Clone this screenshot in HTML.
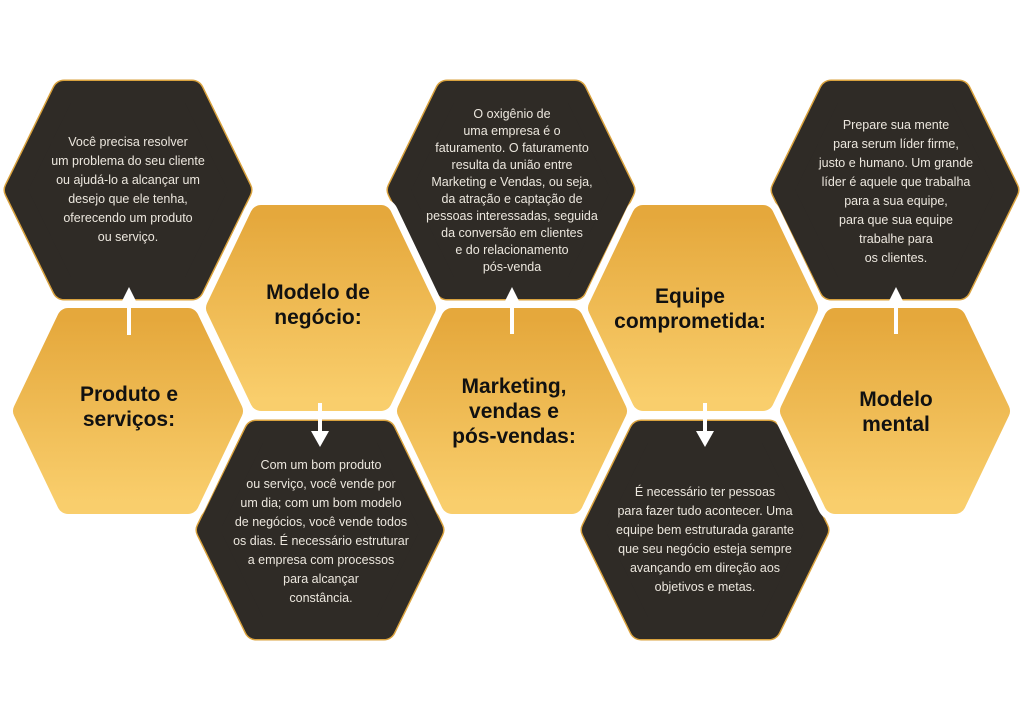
<!DOCTYPE html>
<html><head><meta charset="utf-8"><style>
html,body{margin:0;padding:0;background:#fff;}
svg{display:block}
.t{font-family:"Liberation Sans",sans-serif;font-size:12.5px;fill:#ece7de;text-anchor:middle}
.h{font-family:"Liberation Sans",sans-serif;font-size:21px;font-weight:bold;fill:#111;text-anchor:middle}
</style></head><body>
<svg width="1024" height="727" viewBox="0 0 1024 727" xmlns="http://www.w3.org/2000/svg">
<defs>
<linearGradient id="g" x1="0" y1="0" x2="0" y2="1">
<stop offset="0" stop-color="#e5a83c"/><stop offset="1" stop-color="#f9ce6c"/></linearGradient>
</defs>
<!-- dark hexes -->
<g fill="#2f2b26" stroke="#d9a23e" stroke-width="25" stroke-linejoin="round">
<polygon points="16,190 64,92 192,92 240,190 192,288 64,288"/>
<polygon points="399,190 447,92 575,92 623,190 575,288 447,288"/>
<polygon points="783,190 831,92 959,92 1007,190 959,288 831,288"/>
<polygon points="208,530 256,432 384,432 432,530 384,628 256,628"/>
<polygon points="593,530 641,432 769,432 817,530 769,628 641,628"/>
</g>
<g fill="#2f2b26" stroke="#2f2b26" stroke-width="22" stroke-linejoin="round">
<polygon points="16,190 64,92 192,92 240,190 192,288 64,288"/>
<polygon points="399,190 447,92 575,92 623,190 575,288 447,288"/>
<polygon points="783,190 831,92 959,92 1007,190 959,288 831,288"/>
<polygon points="208,530 256,432 384,432 432,530 384,628 256,628"/>
<polygon points="593,530 641,432 769,432 817,530 769,628 641,628"/>
</g>
<!-- white separation -->
<g fill="#fff" stroke="#fff" stroke-width="36" stroke-linejoin="round">
<polygon points="24,411 68,319 188,319 232,411 188,503 68,503"/>
<polygon points="217,308 261,216 381,216 425,308 381,400 261,400"/>
<polygon points="408,411 452,319 572,319 616,411 572,503 452,503"/>
<polygon points="599,308 643,216 763,216 807,308 763,400 643,400"/>
<polygon points="791,411 835,319 955,319 999,411 955,503 835,503"/>
</g>
<g fill="url(#g)" stroke="url(#g)" stroke-width="22" stroke-linejoin="round">
<polygon points="24,411 68,319 188,319 232,411 188,503 68,503"/>
<polygon points="217,308 261,216 381,216 425,308 381,400 261,400"/>
<polygon points="408,411 452,319 572,319 616,411 572,503 452,503"/>
<polygon points="599,308 643,216 763,216 807,308 763,400 643,400"/>
<polygon points="791,411 835,319 955,319 999,411 955,503 835,503"/>
</g>
<!-- arrows -->
<g fill="#fff" stroke="none">
<rect x="127" y="300" width="4" height="35"/><polygon points="129,287 122,301 136,301"/>
<rect x="510" y="300" width="4" height="34"/><polygon points="512,287 505,301 519,301"/>
<rect x="894" y="300" width="4" height="34"/><polygon points="896,287 889,301 903,301"/>
<rect x="318" y="403" width="4" height="30"/><polygon points="320,447 311,431 329,431"/>
<rect x="703" y="403" width="4" height="30"/><polygon points="705,447 696,431 714,431"/>
</g>
<g class="t">
<text x="128" y="146">Você precisa resolver</text>
<text x="128" y="165">um problema do seu cliente</text>
<text x="128" y="184">ou ajudá-lo a alcançar um</text>
<text x="128" y="203">desejo que ele tenha,</text>
<text x="128" y="222">oferecendo um produto</text>
<text x="128" y="241">ou serviço.</text>

<text x="512" y="118">O oxigênio de</text>
<text x="512" y="135">uma empresa é o</text>
<text x="512" y="152">faturamento. O faturamento</text>
<text x="512" y="169">resulta da união entre</text>
<text x="512" y="186">Marketing e Vendas, ou seja,</text>
<text x="512" y="203">da atração e captação de</text>
<text x="512" y="220">pessoas interessadas, seguida</text>
<text x="512" y="237">da conversão em clientes</text>
<text x="512" y="254">e do relacionamento</text>
<text x="512" y="271">pós-venda</text>

<text x="896" y="129">Prepare sua mente</text>
<text x="896" y="148">para serum líder firme,</text>
<text x="896" y="167">justo e humano. Um grande</text>
<text x="896" y="186">líder é aquele que trabalha</text>
<text x="896" y="205">para a sua equipe,</text>
<text x="896" y="224">para que sua equipe</text>
<text x="896" y="243">trabalhe para</text>
<text x="896" y="262">os clientes.</text>

<text x="321" y="469">Com um bom produto</text>
<text x="321" y="488">ou serviço, você vende por</text>
<text x="321" y="507">um dia; com um bom modelo</text>
<text x="321" y="526">de negócios, você vende todos</text>
<text x="321" y="545">os dias. É necessário estruturar</text>
<text x="321" y="564">a empresa com processos</text>
<text x="321" y="583">para alcançar</text>
<text x="321" y="602">constância.</text>

<text x="705" y="496">É necessário ter pessoas</text>
<text x="705" y="515">para fazer tudo acontecer. Uma</text>
<text x="705" y="534">equipe bem estruturada garante</text>
<text x="705" y="553">que seu negócio esteja sempre</text>
<text x="705" y="572">avançando em direção aos</text>
<text x="705" y="591">objetivos e metas.</text>
</g>
<g class="h">
<text x="129" y="401">Produto e</text>
<text x="129" y="426">serviços:</text>
<text x="318" y="299">Modelo de</text>
<text x="318" y="324">negócio:</text>
<text x="514" y="393">Marketing,</text>
<text x="514" y="418">vendas e</text>
<text x="514" y="443">pós-vendas:</text>
<text x="690" y="303">Equipe</text>
<text x="690" y="328">comprometida:</text>
<text x="896" y="406">Modelo</text>
<text x="896" y="431">mental</text>
</g>
</svg>
</body></html>
